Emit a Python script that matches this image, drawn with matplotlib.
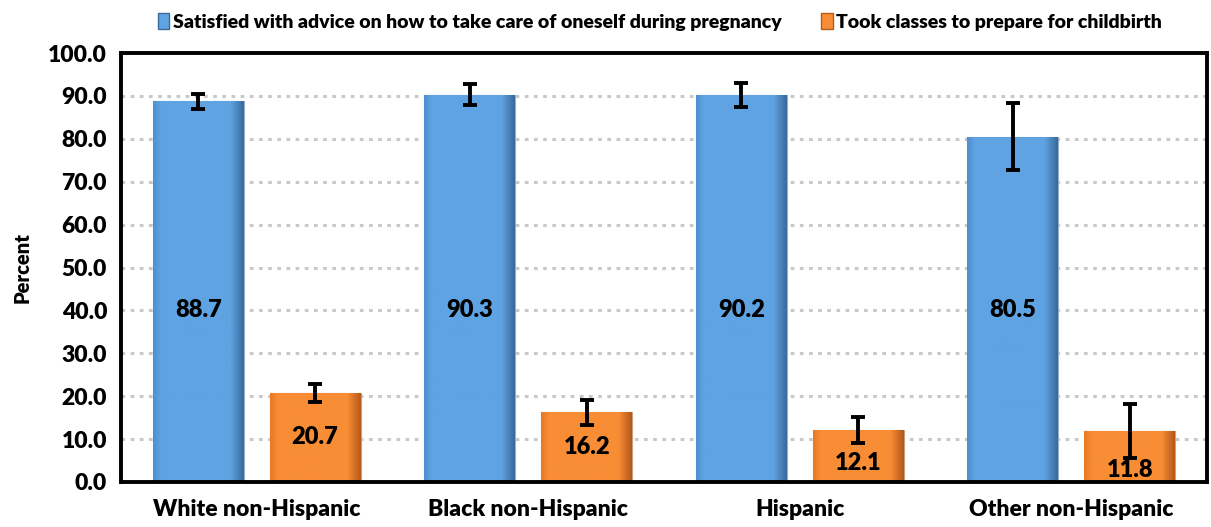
import numpy as np
import matplotlib.pyplot as plt
import matplotlib.colors as mcolors
from matplotlib.ticker import MultipleLocator, FormatStrFormatter

groups = ["White non-Hispanic", "Black non-Hispanic", "Hispanic", "Other non-Hispanic"]
series_names = ["Satisfied with advice on how to take care of oneself during pregnancy",
                "Took classes to prepare for childbirth"]
advice = [88.7, 90.3, 90.2, 80.5]
advice_err = [1.7, 2.5, 2.9, 7.8]
classes = [20.7, 16.2, 12.1, 11.8]
classes_err = [2.1, 2.9, 3.1, 6.3]
# where the value labels sit
advice_lab_y = [40.0, 40.0, 40.0, 40.0]
classes_lab_y = [10.4, 8.1, 4.4, 2.9]

FONT = "Lato"
WT = "heavy"
BLUE = ["#4f8fd0", "#5fa3e3", "#3a6c9c"]
ORANGE = ["#e87a28", "#f88d35", "#b85a1a"]

fig = plt.figure(figsize=(12.11, 5.27), dpi=100)
ax = fig.add_axes([0.0999, 0.0854, 0.8968, 0.814])

x = np.arange(len(groups))
w = 0.335
off = 0.215


def shade(bars, cols):
    # fake the excel bevel: horizontal gradient clipped to each bar
    cmap = mcolors.LinearSegmentedColormap.from_list(
        "b", [(0, cols[0]), (0.08, cols[1]), (0.86, cols[1]), (1, cols[2])])
    grad = np.linspace(0, 1, 64).reshape(1, -1)
    for b in bars:
        x0, y0 = b.get_x(), b.get_y()
        im = ax.imshow(grad, cmap=cmap, aspect="auto", zorder=2,
                       extent=(x0, x0 + b.get_width(), y0, y0 + b.get_height()))
        im.set_clip_path(b)


b1 = ax.bar(x - off, advice, w, color=BLUE[1], edgecolor="#9ab0c8", linewidth=0.8, zorder=2)
b2 = ax.bar(x + off, classes, w, color=ORANGE[1], edgecolor="#c8a080", linewidth=0.8, zorder=2)
shade(b1, BLUE)
shade(b2, ORANGE)

ax.errorbar(x - off, advice, yerr=advice_err, fmt="none", ecolor="black",
            elinewidth=2.8, capsize=5, capthick=2.8, zorder=4)
ax.errorbar(x + off, classes, yerr=classes_err, fmt="none", ecolor="black",
            elinewidth=2.8, capsize=5, capthick=2.8, zorder=4)

for i in range(len(groups)):
    ax.text(x[i] - off, advice_lab_y[i], f"{advice[i]:.1f}", ha="center", va="center",
            fontsize=17, fontweight=WT, fontfamily=FONT, zorder=5)
    ax.text(x[i] + off, classes_lab_y[i], f"{classes[i]:.1f}", ha="center", va="center",
            fontsize=17, fontweight=WT, fontfamily=FONT, zorder=5)

ax.set_xlim(-0.5, len(groups) - 0.5)
ax.set_ylim(0, 100)
ax.yaxis.set_major_locator(MultipleLocator(10))
ax.yaxis.set_major_formatter(FormatStrFormatter("%.1f"))
ax.set_xticks(x)
ax.set_xticklabels(groups)
for lab in ax.get_xticklabels() + ax.get_yticklabels():
    lab.set_fontfamily(FONT)
    lab.set_fontweight(WT)
    lab.set_fontsize(16.5)
ax.tick_params(axis="both", length=0)
ax.tick_params(axis="x", pad=12)
ax.tick_params(axis="y", pad=10)

ax.set_ylabel("Percent", fontsize=14.5, fontweight=WT, fontfamily=FONT, labelpad=12)

for yv in range(10, 100, 10):
    ax.axhline(yv, color="#c8c8c8", linewidth=2.2, linestyle=(0, (1.2, 1.8)), zorder=1)

for s in ax.spines.values():
    s.set_linewidth(2.8)
    s.set_color("black")

h = [plt.Rectangle((0, 0), 1, 1, color=BLUE[1], ec="#3a6c9c"),
     plt.Rectangle((0, 0), 1, 1, color=ORANGE[1], ec="#b85a1a")]
fig.legend(h, series_names, loc="upper center", bbox_to_anchor=(0.545, 1.008), ncol=2,
           frameon=False, prop={"family": FONT, "weight": WT, "size": 14},
           handlelength=0.6, handleheight=0.9, handletextpad=0.2, columnspacing=2.0)

plt.savefig("out.png", dpi=100)
